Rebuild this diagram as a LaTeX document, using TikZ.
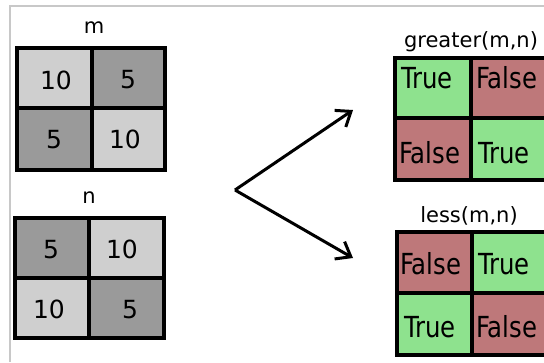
\documentclass[tikz,border=0pt]{standalone}
\usepackage{fontspec}
\usepackage{graphicx}
\setmainfont{DejaVu Sans}
\usetikzlibrary{arrows.meta}
\definecolor{cellLight}{RGB}{207,207,207}
\definecolor{cellDark}{RGB}{154,154,154}
\definecolor{cellTrue}{RGB}{142,226,142}
\definecolor{cellFalse}{RGB}{190,120,122}
\definecolor{frameGray}{RGB}{200,200,200}
\newcommand{\cellword}[1]{\scalebox{0.84}[1]{#1}}
\tikzset{
  cell/.style={draw=black, line width=3.5pt},
  num/.style={font=\fontsize{25}{25}\selectfont, anchor=base, inner sep=0pt},
  word/.style={font=\fontsize{29}{29}\selectfont, anchor=base west, inner sep=0pt},
  title/.style={font=\fontsize{21}{21}\selectfont, anchor=base, inner sep=0pt},
  fork/.style={line width=3pt, -{Straight Barb[length=13pt,width=20pt,line width=3pt]}}
}
\begin{document}
\begin{tikzpicture}[x=1pt,y=-1pt]
\useasboundingbox (0,0) rectangle (544,362);
\clip (0,0) rectangle (544,362);
% frame lines
\draw[frameGray, line width=1.5pt] (10,362) -- (10,6) -- (544,6);

% matrix m
\node[title] (mlabel) at (94,33) {m};
\fill[cellLight] (17,48) rectangle (92,108);
\fill[cellDark] (92,48) rectangle (165,108);
\fill[cellDark] (17,108) rectangle (92,170);
\fill[cellLight] (92,108) rectangle (165,170);
\draw[cell] (17,48) rectangle (165,170) (92,48) -- (92,170) (17,108) -- (165,108);
\node[num] (m11) at (56,89) {10};
\node[num] (m12) at (128,88) {5};
\node[num] (m21) at (54,148) {5};
\node[num] (m22) at (125,148) {10};

% matrix n
\node[title] (nlabel) at (89,203) {n};
\fill[cellDark] (15,218) rectangle (89,278);
\fill[cellLight] (89,218) rectangle (164,278);
\fill[cellLight] (15,278) rectangle (89,338);
\fill[cellDark] (89,278) rectangle (164,338);
\draw[cell] (15,218) rectangle (164,338) (89,218) -- (89,338) (15,278) -- (164,278);
\node[num] (n11) at (51,258) {5};
\node[num] (n12) at (122,258) {10};
\node[num] (n21) at (49,318) {10};
\node[num] (n22) at (130,318) {5};

% greater(m,n)
\node[title] (glabel) at (471,47) {greater(m,n)};
\fill[cellTrue] (395,58) rectangle (471,118);
\fill[cellFalse] (471,58) rectangle (548,118);
\fill[cellFalse] (395,118) rectangle (471,180);
\fill[cellTrue] (471,118) rectangle (548,180);
\draw[cell] (395,58) rectangle (548,180) (471,58) -- (471,180) (395,118) -- (548,118);
\node[word] (g11) at (401,88) {\cellword{True}};
\node[word] (g12) at (476,88) {\cellword{False}};
\node[word] (g21) at (399,163) {\cellword{False}};
\node[word] (g22) at (478,163) {\cellword{True}};

% less(m,n)
\node[title] (llabel) at (469,222) {less(m,n)};
\fill[cellFalse] (397,232) rectangle (472,293);
\fill[cellTrue] (472,232) rectangle (548,293);
\fill[cellTrue] (397,293) rectangle (472,355);
\fill[cellFalse] (472,293) rectangle (548,355);
\draw[cell] (397,232) rectangle (548,355) (472,232) -- (472,355) (397,293) -- (548,293);
\node[word] (l11) at (400,274) {\cellword{False}};
\node[word] (l12) at (478,274) {\cellword{True}};
\node[word] (l21) at (404,337) {\cellword{True}};
\node[word] (l22) at (476,337) {\cellword{False}};

% comparison arrows
\coordinate (split) at (235,190);
\coordinate (toGreater) at (353,110);
\coordinate (toLess) at (353,258);
\draw[fork, line join=round] (split) -- (toGreater);
\draw[fork, line join=round] (split) -- (toLess);
\end{tikzpicture}
\end{document}
